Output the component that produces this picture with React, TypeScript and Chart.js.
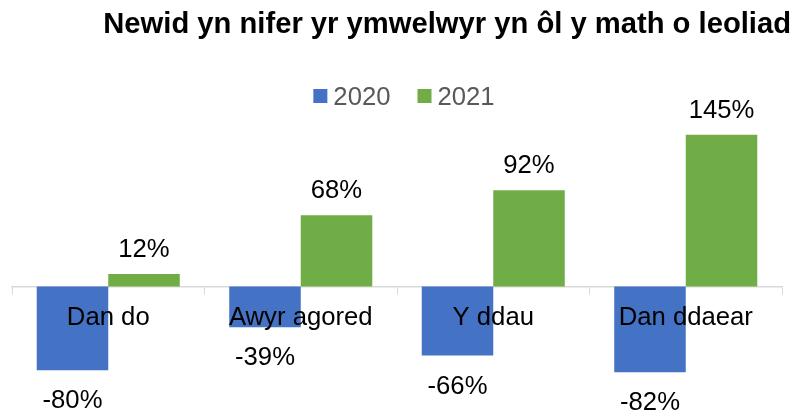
import { useEffect, useRef } from "react";
import { Chart, registerables } from "chart.js";

Chart.register(...registerables);

const titleText = "Newid yn nifer yr ymwelwyr yn ôl y math o leoliad";
const categories = ["Dan do", "Awyr agored", "Y ddau", "Dan ddaear"];
const seriesNames = ["2020", "2021"];
const values2020 = [-80, -39, -66, -82];
const values2021 = [12, 68, 92, 145];
const seriesColors = ["#4472C4", "#70AD47"];
const yMin = -100;
const yMax = 150;

const FONT = "Arial, 'Liberation Sans', sans-serif";
const LABEL_SIZE = 25.7;

const dataLabelPlugin = {
  id: "dataLabels",
  afterDatasetsDraw(chart: any) {
    const ctx = chart.ctx;
    ctx.save();
    ctx.font = `${LABEL_SIZE}px ${FONT}`;
    ctx.fillStyle = "#000000";
    ctx.textAlign = "center";
    ctx.textBaseline = "alphabetic";
    chart.data.datasets.forEach((ds: any, i: number) => {
      const meta = chart.getDatasetMeta(i);
      meta.data.forEach((bar: any, j: number) => {
        const v = ds.data[j] as number;
        const { x, y } = bar.getProps(["x", "y"], true);
        ctx.fillText(`${v}%`, x, v >= 0 ? y - 17.3 : y + 38.2);
      });
    });
    ctx.restore();
  },
};

const titleLegendPlugin = {
  id: "titleLegend",
  afterDraw(chart: any) {
    const ctx = chart.ctx;
    ctx.save();
    // title
    ctx.font = `bold 29.2px ${FONT}`;
    ctx.fillStyle = "#000000";
    ctx.textAlign = "right";
    ctx.textBaseline = "alphabetic";
    ctx.fillText(titleText, 791, 33.3);
    // legend
    ctx.font = `${LABEL_SIZE}px ${FONT}`;
    const box = 14;
    const gap = 6;
    const itemGap = 27;
    const widths = chart.data.datasets.map((ds: any) => ctx.measureText(ds.label).width);
    let total = 0;
    widths.forEach((w: number, i: number) => {
      total += box + gap + w + (i > 0 ? itemGap : 0);
    });
    let x = 404 - total / 2;
    ctx.textAlign = "left";
    chart.data.datasets.forEach((ds: any, i: number) => {
      ctx.fillStyle = ds.backgroundColor;
      ctx.fillRect(x, 89, box, box);
      ctx.fillStyle = "#595959";
      ctx.fillText(ds.label, x + box + gap, 104.5);
      x += box + gap + widths[i] + itemGap;
    });
    ctx.restore();
  },
};

export default function App() {
  const canvasRef = useRef<HTMLCanvasElement | null>(null);

  useEffect(() => {
    if (!canvasRef.current) return;
    const chart = new Chart(canvasRef.current, {
      type: "bar",
      data: {
        labels: categories,
        datasets: [
          {
            label: seriesNames[0],
            data: values2020,
            backgroundColor: seriesColors[0],
            categoryPercentage: 0.743,
            barPercentage: 1,
          },
          {
            label: seriesNames[1],
            data: values2021,
            backgroundColor: seriesColors[1],
            categoryPercentage: 0.743,
            barPercentage: 1,
          },
        ],
      },
      options: {
        responsive: false,
        animation: false,
        layout: { padding: { top: 129.6, bottom: 20.9, left: 12, right: 12 } },
        plugins: {
          legend: { display: false },
          title: { display: false },
          tooltip: { enabled: false },
        },
        scales: {
          x: {
            position: { y: 0 } as any,
            grid: {
              display: true,
              drawOnChartArea: false,
              drawTicks: true,
              tickLength: 7,
              color: "#D9D9D9",
              offset: true,
            },
            border: { display: true, color: "#D9D9D9", width: 1.5 },
            ticks: {
              z: 1,
              color: "#000000",
              font: { family: FONT, size: LABEL_SIZE },
              padding: 9,
              maxRotation: 0,
              autoSkip: false,
            },
          },
          y: {
            display: false,
            min: yMin,
            max: yMax,
          },
        },
      },
      plugins: [dataLabelPlugin, titleLegendPlugin],
    });
    return () => chart.destroy();
  }, []);

  return (
    <div style={{ position: "absolute", left: 0, top: 0, width: 794, height: 412, background: "#ffffff" }}>
      <canvas ref={canvasRef} width={794} height={412} style={{ display: "block" }} />
    </div>
  );
}
